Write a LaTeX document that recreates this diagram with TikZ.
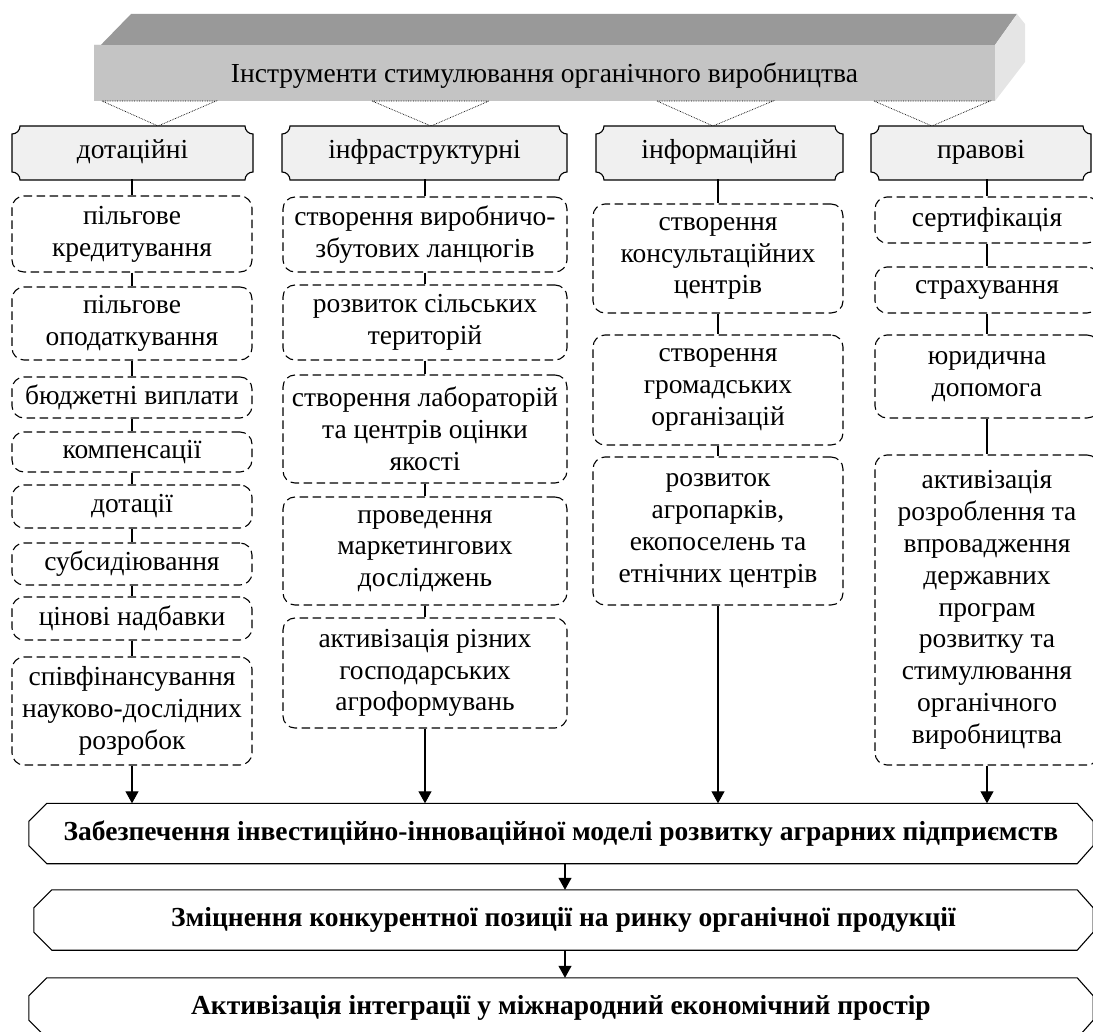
\documentclass[tikz,border=0pt]{standalone}
\usepackage{fontspec}
\setmainfont{Liberation Serif}
\usetikzlibrary{arrows.meta}
\newcommand{\bodysize}{\fontsize{27.5}{31.8}\selectfont}

\tikzset{
  item/.style={draw, line width=1.1pt, dash pattern=on 8.5pt off 4.5pt, rounded corners=12pt, align=center, inner sep=2pt},
  colA/.style={item, minimum width=240pt},
  colB/.style={item, minimum width=284pt},
  colC/.style={item, minimum width=250pt},
  colD/.style={item, minimum width=224pt},
  goal/.style={font=\bodysize\bfseries, minimum height=60pt, inner sep=0pt},
  link/.style={line width=1.1pt},
  flow/.style={line width=1.1pt, -{Triangle[width=13pt,length=12pt]}},
  tri/.style={densely dotted, line width=0.7pt},
}

\begin{document}
\begin{tikzpicture}[x=1pt,y=-1pt,font=\bodysize]
\useasboundingbox (0,0) rectangle (1093,1032);
\clip (0,0) rectangle (1093,1032);

% bar on top
\fill[black!40] (94,52) -- (131,14) -- (1017,14) -- (995,45) -- (94,45) -- cycle;
\fill[black!23] (94,45) rectangle (995,101);
\fill[black!10] (995,45) -- (1017,14) -- (1025,24) -- (1025,62) -- (995,101) -- cycle;
\node[anchor=base] (title) at (544.5,83) {Інструменти стимулювання органічного виробництва};

\draw[tri] (102,101) -- (158,126) -- (216,101) -- cycle;
\draw[tri] (372,101) -- (431,126) -- (489,101) -- cycle;
\draw[tri] (657,101) -- (713,126) -- (773,101) -- cycle;
\draw[tri] (874,101) -- (932,126) -- (990,101) -- cycle;

% headers with notched corners
\foreach \n/\xa/\xb/\t in {h1/12/253/дотаційні, h2/282/567/інфраструктурні, h3/596/843/інформаційні, h4/871/1091/правові}{
  \draw[link, fill=black!6] (\xa+8,126) -- (\xb-8,126) arc[start angle=180,end angle=270,radius=8pt]
    -- (\xb,172) arc[start angle=90,end angle=180,radius=8pt]
    -- (\xa+8,180) arc[start angle=0,end angle=90,radius=8pt]
    -- (\xa,134) arc[start angle=-90,end angle=0,radius=8pt] -- cycle;
  \node[minimum width={(\xb-\xa)*1pt}, minimum height=54pt, inner sep=0pt, text height=19pt, text depth=6pt] (\n) at ({(\xa+\xb)/2},152) {\t};
}

% first column
\node[colA, minimum height=76pt] (a1) at (132,234) {пільгове\\кредитування};
\node[colA, minimum height=73pt] (a2) at (132,323.5) {пільгове\\оподаткування};
\node[colA, minimum height=41pt] (a3) at (132,397.5) {бюджетні виплати};
\node[colA, minimum height=40pt] (a4) at (132,452) {компенсації};
\node[colA, minimum height=43pt] (a5) at (132,506.5) {дотації};
\node[colA, minimum height=42pt] (a6) at (132,564) {субсидіювання};
\node[colA, minimum height=43pt] (a7) at (132,618.5) {цінові надбавки};
\node[colA, minimum height=108pt] (a8) at (132,711) {співфінансування\\науково-дослідних\\розробок};

% second column
\node[colB, minimum height=75pt] (b1) at (425,234.5) {створення виробничо-\\збутових ланцюгів};
\node[colB, minimum height=75pt] (b2) at (425,322.5) {розвиток сільських\\територій};
\node[colB, minimum height=108pt] (b3) at (425,429) {створення лабораторій\\та центрів оцінки\\якості};
\node[colB, minimum height=108pt] (b4) at (425,551) {проведення\\маркетингових\\досліджень};
\node[colB, minimum height=110pt] (b5) at (425,673) {активізація різних\\господарських\\агроформувань};

% third column
\node[colC, minimum height=109pt] (c1) at (718,258.5) {створення\\консультаційних\\центрів};
\node[colC, minimum height=110pt] (c2) at (718,390) {створення\\громадських\\організацій};
\node[colC, minimum height=148pt] (c3) at (718,531) {розвиток\\агропарків,\\екопоселень та\\етнічних центрів};

% fourth column
\node[colD, minimum height=46pt] (d1) at (987,220) {сертифікація};
\node[colD, minimum height=46pt] (d2) at (987,290) {страхування};
\node[colD, minimum height=83pt] (d3) at (987,376.5) {юридична\\допомога};
\node[colD, minimum height=310pt] (d4) at (987,610) {активізація\\розроблення та\\впровадження\\державних\\програм\\розвитку та\\стимулювання\\органічного\\виробництва};

% results
\node[goal, minimum width=1064pt] (gA) at (561,833.5) {Забезпечення інвестиційно-інноваційної моделі розвитку аграрних підприємств};
\node[goal, minimum width=1059pt] (gB) at (563.5,920) {Зміцнення конкурентної позиції на ринку органічної продукції};
\node[goal, minimum width=1064pt] (gC) at (561,1008) {Активізація інтеграції у міжнародний економічний простір};
\foreach \n in {gA,gB,gC}
  \draw[link] ([xshift=18pt]\n.north west) -- ([xshift=-16pt]\n.north east) -- ([yshift=-18pt]\n.north east)
    -- ([yshift=18pt]\n.south east) -- ([xshift=-16pt]\n.south east) -- ([xshift=18pt]\n.south west)
    -- ([yshift=18pt]\n.south west) -- ([yshift=-18pt]\n.north west) -- cycle;

% connectors
\foreach \h/\n in {h1/a1,h2/b1,h3/c1,h4/d1}
  \draw[link] (\h.south -| \n.north) -- (\n.north);
\foreach \u/\v in {a1/a2,a2/a3,a3/a4,a4/a5,a5/a6,a6/a7,a7/a8,b1/b2,b2/b3,b3/b4,b4/b5,c1/c2,c2/c3,d1/d2,d2/d3,d3/d4}
  \draw[link] (\u) -- (\v);
\foreach \n in {a8,b5,c3,d4}
  \draw[flow] (\n.south) -- (\n.south |- gA.north);
\coordinate (mid) at (565,0);
\draw[flow] (gA.south -| mid) -- (gB.north -| mid);
\draw[flow] (gB.south -| mid) -- (gC.north -| mid);
\end{tikzpicture}
\end{document}
